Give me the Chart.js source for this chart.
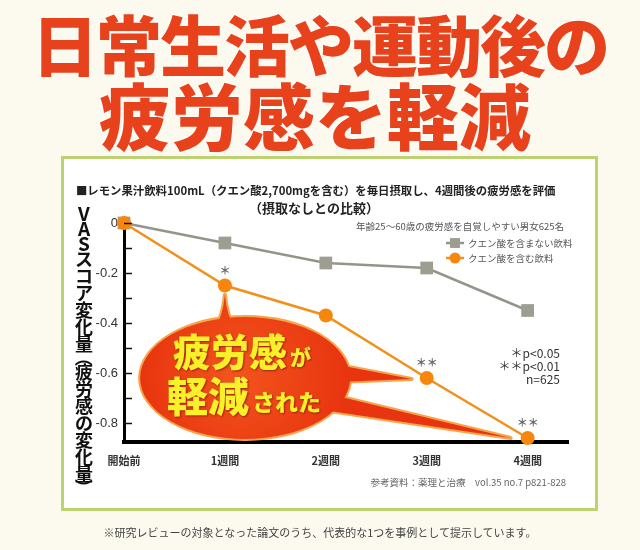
<!DOCTYPE html>
<html><head><meta charset="utf-8">
<script src="https://cdn.jsdelivr.net/npm/chart.js@4/dist/chart.umd.min.js"></script>
<style>
html,body{margin:0;padding:0;}
body{width:640px;height:550px;background:#fcfaef;position:relative;overflow:hidden;font-family:"Noto Sans CJK JP",sans-serif;}
.t{position:absolute;left:0;width:640px;text-align:center;color:#e8421c;font-weight:900;white-space:nowrap;text-shadow:0 0 3px #fff,0 0 2px #fff;}
#t1{top:9px;font-size:66px;line-height:66px;letter-spacing:-2px;}
#t2{top:77px;font-size:72px;line-height:72px;left:-5px;}
#box{position:absolute;left:61px;top:156px;width:531px;height:349px;border:3px solid #bdd36f;background:#fff;}
#note{position:absolute;top:524px;left:0;width:640px;text-align:center;font-size:11px;line-height:16px;color:#444;}
#ytitle{position:absolute;left:72px;top:205px;width:24px;display:flex;flex-direction:column;align-items:center;font-size:18px;font-weight:700;color:#111;}
#ytitle span{display:block;text-align:center;width:24px;}
#ytitle .lat{height:15px;line-height:15px;font-size:19px;}
#ytitle .cj{height:17px;line-height:17px;}
#ytitle .pr{height:11px;line-height:11px;}
#ytitle .pr i{display:inline-block;font-style:normal;transform:rotate(90deg);}
#c{position:absolute;left:0;top:0;}
</style></head>
<body>
<div class="t" id="t1">日常生活や運動後の</div>
<div class="t" id="t2">疲労感を軽減</div>
<div id="box"></div>
<canvas id="c" width="640" height="550"></canvas>
<div id="ytitle"></div>
<div id="note">※研究レビューの対象となった論文のうち、代表的な1つを事例として提示しています。</div>
<script>
const categories = ['開始前', '1週間', '2週間', '3週間', '4週間'];
const noCitricValues = [0, -0.08, -0.16, -0.18, -0.35];
const citricValues = [0, -0.25, -0.37, -0.62, -0.86];
const seriesNames = ['クエン酸を含まない飲料', 'クエン酸を含む飲料'];
const significanceMarks = ['', '*', '', '**', '**'];
const yTickValues = [0, -0.1, -0.2, -0.3, -0.4, -0.5, -0.6, -0.7, -0.8];
const yTickLabels = ['0', '', '-0.2', '', '-0.4', '', '-0.6', '', '-0.8'];
const yAxisTitle = 'VASスコア変化量（疲労感の変化量）';
const chartTitle = '■レモン果汁飲料100mL（クエン酸2,700mgを含む）を毎日摂取し、4週間後の疲労感を評価';
const chartSubtitle = '（摂取なしとの比較）';
const sampleNote = '年齢25〜60歳の疲労感を自覚しやすい男女625名';
const sigNotes = ['＊p<0.05', '＊＊p<0.01', 'n=625'];
const sourceNote = '参考資料：薬理と治療　vol.35 no.7 p821-828';
const calloutBig = ['疲労感', '軽減'];
const calloutSmall = ['が', 'された'];

// vertical y-axis title (stacked characters)
(function () {
  const el = document.getElementById('ytitle');
  for (const ch of yAxisTitle) {
    const s = document.createElement('span');
    if (/[A-Za-z]/.test(ch)) { s.className = 'lat'; s.textContent = ch; }
    else if (ch === '（' || ch === '）') {
      s.className = 'pr';
      const i = document.createElement('i'); i.textContent = ch; s.appendChild(i);
    } else { s.className = 'cj'; s.textContent = ch; }
    el.appendChild(s);
  }
})();

const FONT = '"Noto Sans CJK JP", sans-serif';
const CITRIC_IDX = 1;
const toXY = arr => arr.map((v, i) => ({x: i, y: v}));

const decor = {
  id: 'decor',
  beforeDatasetsDraw(chart) {
    const {ctx, scales: {x, y}} = chart;
    const meta = chart.getDatasetMeta(CITRIC_IDX);
    const p1 = meta.data[1], p3 = meta.data[3], p4 = meta.data[4];
    const cx = x.getPixelForValue(1.2), cy = y.getPixelForValue(-0.62);
    const rx = 105, ry = 61;
    const shapes = [];
    shapes.push(c => { c.ellipse(cx, cy, rx, ry, 0, 0, Math.PI * 2); });
    shapes.push(c => {
      const by = cy - ry + 10, ty = p1.y + 9;
      c.moveTo(p1.x - 10, by);
      c.quadraticCurveTo(p1.x - 2, by - 10, p1.x, ty);
      c.quadraticCurveTo(p1.x + 2, by - 10, p1.x + 10, by);
      c.closePath();
    });
    shapes.push(c => {
      c.moveTo(cx + 88, cy - 14);
      c.lineTo(p3.x - 15, p3.y + 1);
      c.lineTo(cx + 92, cy + 4);
      c.closePath();
    });
    shapes.push(c => {
      c.moveTo(cx + 88, cy + 17);
      c.lineTo(p4.x - 17, p4.y);
      c.lineTo(cx + 78, cy + 32);
      c.closePath();
    });
    ctx.save();
    ctx.lineJoin = 'round';
    ctx.strokeStyle = '#f7a54a';
    ctx.lineWidth = 4;
    shapes.forEach(s => { ctx.beginPath(); s(ctx); ctx.stroke(); });
    const g = ctx.createRadialGradient(cx - 10, cy - 5, 10, cx, cy, rx);
    g.addColorStop(0, '#f2521c');
    g.addColorStop(1, '#e8340f');
    ctx.fillStyle = g;
    shapes.forEach(s => { ctx.beginPath(); s(ctx); ctx.fill(); });
    ctx.fillStyle = '#f8f12a';
    ctx.shadowColor = 'rgba(90,0,0,0.55)';
    ctx.shadowBlur = 2;
    ctx.shadowOffsetX = 1;
    ctx.shadowOffsetY = 1;
    ctx.textBaseline = 'alphabetic';
    ctx.textAlign = 'left';
    ctx.font = '900 38px ' + FONT;
    const bx1 = cx - 72, bl1 = cy - 12;
    ctx.fillText(calloutBig[0], bx1, bl1);
    const w1 = ctx.measureText(calloutBig[0]).width;
    ctx.font = '900 21px ' + FONT;
    ctx.fillText(calloutSmall[0], bx1 + w1 + 3, bl1 - 1);
    ctx.font = '900 41px ' + FONT;
    const bx2 = cx - 78, bl2 = cy + 34;
    ctx.fillText(calloutBig[1], bx2, bl2);
    const w2 = ctx.measureText(calloutBig[1]).width;
    ctx.font = '900 23px ' + FONT;
    ctx.fillText(calloutSmall[1], bx2 + w2 + 3, bl2 - 1);
    ctx.restore();
  },
  afterDatasetsDraw(chart) {
    const {ctx} = chart;
    const meta = chart.getDatasetMeta(CITRIC_IDX);
    ctx.save();
    ctx.fillStyle = '#666';
    ctx.font = 'bold 11px ' + FONT;
    ctx.textAlign = 'center';
    ctx.textBaseline = 'middle';
    significanceMarks.forEach((m, i) => {
      if (!m) return;
      const p = meta.data[i];
      ctx.fillText(m.replace(/\*/g, '＊'), p.x, p.y - 15);
    });
    ctx.restore();
  },
  afterDraw(chart) {
    const {ctx, scales: {x, y}} = chart;
    ctx.save();
    ctx.strokeStyle = '#111';
    ctx.lineWidth = 1.5;
    yTickValues.forEach(v => {
      const py = Math.round(y.getPixelForValue(v)) + 0.5;
      ctx.beginPath();
      ctx.moveTo(x.left, py);
      ctx.lineTo(x.left + 8, py);
      ctx.stroke();
    });
    ctx.fillStyle = '#222';
    ctx.textBaseline = 'middle';
    ctx.textAlign = 'left';
    ctx.font = 'bold 13px ' + FONT;
    const tw = ctx.measureText(chartTitle).width;
    const fs = Math.min(13.5, 13 * 480 / tw);
    ctx.font = 'bold ' + fs.toFixed(2) + 'px ' + FONT;
    ctx.fillText(chartTitle, 76, 191);
    ctx.textAlign = 'center';
    ctx.font = 'bold 13px ' + FONT;
    ctx.fillText(chartSubtitle, 314, 208);
    ctx.fillStyle = '#555';
    ctx.textAlign = 'right';
    ctx.font = '9.5px ' + FONT;
    ctx.fillText(sampleNote, 564, 226);
    chart.data.datasets.forEach((ds, i) => {
      const ly = 243 + i * 15;
      ctx.strokeStyle = ds.borderColor;
      ctx.lineWidth = 2.5;
      ctx.beginPath();
      ctx.moveTo(446, ly);
      ctx.lineTo(464, ly);
      ctx.stroke();
      ctx.fillStyle = ds.backgroundColor;
      Chart.helpers.drawPoint(ctx, {pointStyle: ds.pointStyle, radius: ds.pointStyle === 'rect' ? 7 : 5.5, rotation: 0, borderWidth: 0}, 455, ly);
      ctx.fillStyle = '#555';
      ctx.textAlign = 'left';
      ctx.font = '9.5px ' + FONT;
      ctx.fillText(ds.label, 468, ly);
    });
    ctx.fillStyle = '#333';
    ctx.textAlign = 'right';
    ctx.font = '12px ' + FONT;
    sigNotes.forEach((t, i) => ctx.fillText(t, 560, 353 + i * 13));
    ctx.fillStyle = '#666';
    ctx.font = '9.5px ' + FONT;
    ctx.fillText(sourceNote, 566, 482);
    ctx.restore();
  }
};

new Chart(document.getElementById('c'), {
  type: 'line',
  data: {
    datasets: [
      {
        label: seriesNames[0],
        data: toXY(noCitricValues),
        borderColor: '#94958a',
        backgroundColor: '#9d9e91',
        borderWidth: 2.5,
        pointStyle: 'rect',
        pointRadius: 9,
        pointHoverRadius: 9,
        pointBorderWidth: 0,
        order: 1,
        clip: false
      },
      {
        label: seriesNames[1],
        data: toXY(citricValues),
        borderColor: '#f2901c',
        backgroundColor: '#f7860e',
        borderWidth: 2.5,
        pointStyle: 'circle',
        pointRadius: 7,
        pointHoverRadius: 7,
        pointBorderWidth: 0,
        order: 0,
        clip: false
      }
    ]
  },
  options: {
    responsive: false,
    devicePixelRatio: 1,
    animation: false,
    layout: {padding: {left: 0, right: 72, top: 223, bottom: 0}},
    plugins: {legend: {display: false}, title: {display: false}, tooltip: {enabled: false}},
    scales: {
      x: {
        type: 'linear',
        min: 0,
        max: 4.4,
        afterBuildTicks: s => { s.ticks = categories.map((_, i) => ({value: i})); },
        afterFit: s => { s.height = 108; },
        grid: {display: false, drawTicks: false},
        border: {display: true, color: '#000', width: 4},
        ticks: {
          padding: 12,
          color: '#333',
          font: {family: FONT, size: 11, weight: 'bold'},
          callback: v => categories[v] ?? ''
        }
      },
      y: {
        type: 'linear',
        min: -0.876,
        max: 0,
        afterBuildTicks: s => { s.ticks = yTickValues.map(v => ({value: v})); },
        afterFit: s => { s.width = 124; },
        grid: {display: false, drawTicks: false},
        border: {display: true, color: '#000', width: 3},
        ticks: {
          padding: 6,
          color: '#333',
          font: {family: '"Liberation Sans", Arial, sans-serif', size: 13},
          callback: (v, i) => yTickLabels[i]
        }
      }
    }
  },
  plugins: [decor]
});
</script>
</body></html>
